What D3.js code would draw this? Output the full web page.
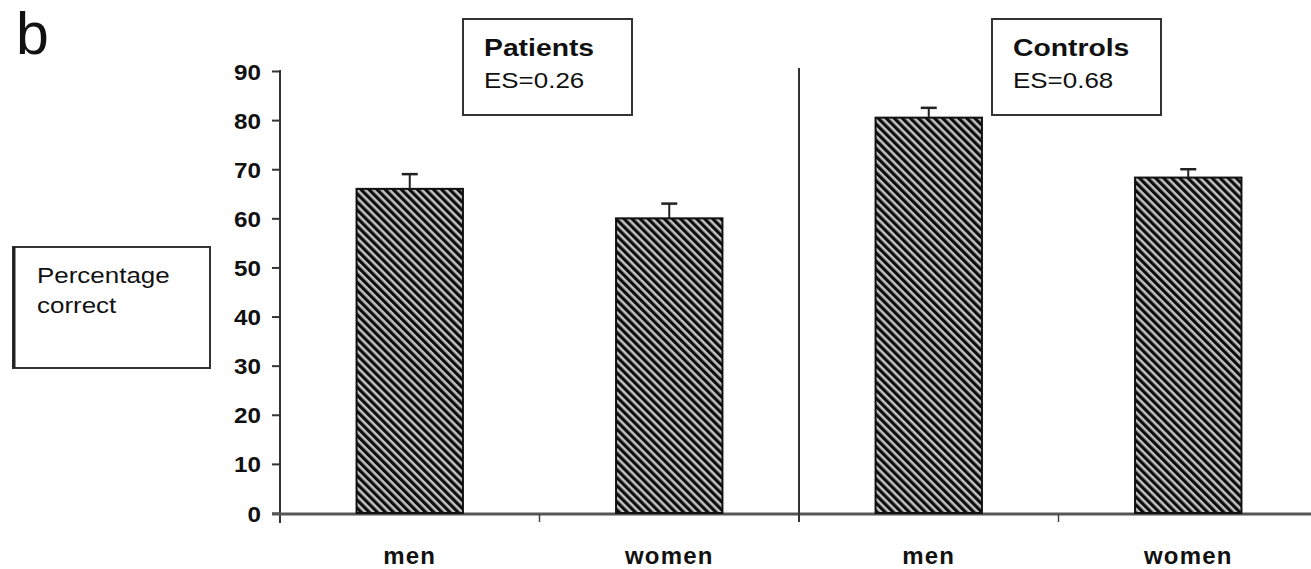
<!DOCTYPE html>
<html>
<head>
<meta charset="utf-8">
<script src="https://cdn.jsdelivr.net/npm/d3@7"></script>
<style>
  body { margin: 0; background: #fff; }
  text { font-family: "Liberation Sans", Arial, sans-serif; fill: #111; }
</style>
</head>
<body>
<div id="chart"></div>
<script>
// data
var categories = ["men", "women", "men", "women"];
var groups = ["Patients", "Patients", "Controls", "Controls"];
var values = [66, 60, 80.5, 68.3];
var errors = [3, 3, 2, 1.7];
var panelTitles = ["Patients", "Controls"];
var panelES = ["ES=0.26", "ES=0.68"];
var yTicks = [0, 10, 20, 30, 40, 50, 60, 70, 80, 90];

var width = 1311, height = 569;
var sx = 1.18; // the figure is a little wider than tall

var svg = d3.select("#chart").append("svg")
  .attr("width", width)
  .attr("height", height);

var defs = svg.append("defs");
var pat = defs.append("pattern")
  .attr("id", "hatch")
  .attr("patternUnits", "userSpaceOnUse")
  .attr("width", 5.7)
  .attr("height", 5.7)
  .attr("patternTransform", "rotate(-45)");
pat.append("rect").attr("width", 5.7).attr("height", 5.7).attr("fill", "#c4c4c4");
pat.append("line")
  .attr("x1", 1.6).attr("y1", 0).attr("x2", 1.6).attr("y2", 5.7)
  .attr("stroke", "#0d0d0d").attr("stroke-width", 3.2);

var y = d3.scaleLinear().domain([0, 90]).range([513, 71]);
var x = d3.scaleBand()
  .domain(d3.range(categories.length))
  .range([280, 1318])
  .paddingInner(0.59)
  .paddingOuter(0.295);

// y axis
var yAxis = svg.append("g")
  .attr("transform", "translate(280,0)")
  .call(d3.axisLeft(y).tickValues(yTicks).tickSize(8).tickFormat(d3.format("d")));
yAxis.select(".domain").remove();
yAxis.selectAll(".tick line").attr("stroke", "#333").attr("stroke-width", 2);
yAxis.selectAll(".tick text")
  .attr("x", null).attr("dy", null)
  .attr("font-size", 22).attr("font-weight", "bold")
  .attr("text-anchor", "end")
  .attr("transform", "translate(-19,8) scale(1.1,1)");
svg.append("line")
  .attr("x1", 280).attr("x2", 280).attr("y1", 70).attr("y2", 523)
  .attr("stroke", "#333").attr("stroke-width", 2);

// x axis line and group ticks
var step = x.step();
svg.append("line")
  .attr("x1", 272).attr("x2", width).attr("y1", 514).attr("y2", 514)
  .attr("stroke", "#555").attr("stroke-width", 3);
[1, 3].forEach(function(k) {
  svg.append("line")
    .attr("x1", 280 + k * step).attr("x2", 280 + k * step)
    .attr("y1", 514).attr("y2", 522)
    .attr("stroke", "#444").attr("stroke-width", 1.5);
});
// divider between the two groups
svg.append("line")
  .attr("x1", 280 + 2 * step).attr("x2", 280 + 2 * step)
  .attr("y1", 68).attr("y2", 522)
  .attr("stroke", "#333").attr("stroke-width", 2);

// bars
svg.selectAll("rect.bar")
  .data(values)
  .enter()
  .append("rect")
  .attr("class", "bar")
  .attr("x", function(d, i) { return x(i); })
  .attr("y", function(d) { return y(d); })
  .attr("width", x.bandwidth())
  .attr("height", function(d) { return y(0) - y(d); })
  .attr("fill", "url(#hatch)")
  .attr("stroke", "#111")
  .attr("stroke-width", 2);

// error bars (upper only)
var eb = svg.selectAll("g.err")
  .data(values)
  .enter()
  .append("g")
  .attr("class", "err");
eb.append("line")
  .attr("x1", function(d, i) { return x(i) + x.bandwidth() / 2; })
  .attr("x2", function(d, i) { return x(i) + x.bandwidth() / 2; })
  .attr("y1", function(d) { return y(d); })
  .attr("y2", function(d, i) { return y(d + errors[i]); })
  .attr("stroke", "#222").attr("stroke-width", 2);
eb.append("line")
  .attr("x1", function(d, i) { return x(i) + x.bandwidth() / 2 - 8; })
  .attr("x2", function(d, i) { return x(i) + x.bandwidth() / 2 + 8; })
  .attr("y1", function(d, i) { return y(d + errors[i]); })
  .attr("y2", function(d, i) { return y(d + errors[i]); })
  .attr("stroke", "#222").attr("stroke-width", 2.5);

// category labels
svg.selectAll("text.cat")
  .data(categories)
  .enter()
  .append("text")
  .attr("class", "cat")
  .attr("text-anchor", "middle")
  .attr("font-size", 24)
  .attr("font-weight", "bold")
  .attr("letter-spacing", 1.2)
  .attr("transform", function(d, i) {
    return "translate(" + (x(i) + x.bandwidth() / 2) + ",564)";
  })
  .text(function(d) { return d; });

// panel boxes
var boxX = [463, 992];
panelTitles.forEach(function(t, i) {
  var g = svg.append("g").attr("transform", "translate(" + boxX[i] + ",19)");
  g.append("rect")
    .attr("width", 169).attr("height", 96)
    .attr("fill", "#fff").attr("stroke", "#333").attr("stroke-width", 2);
  g.append("text")
    .attr("transform", "translate(21,37) scale(" + sx + ",1)")
    .attr("font-size", 24).attr("font-weight", "bold")
    .text(t);
  g.append("text")
    .attr("transform", "translate(21,69) scale(" + sx + ",1)")
    .attr("font-size", 22)
    .text(panelES[i]);
});

// y label box
var lb = svg.append("g").attr("transform", "translate(13,247)");
lb.append("rect")
  .attr("width", 197).attr("height", 121)
  .attr("fill", "#fff").attr("stroke", "#333").attr("stroke-width", 2);
lb.append("line")
  .attr("x1", 1).attr("x2", 1).attr("y1", 0).attr("y2", 121)
  .attr("stroke", "#222").attr("stroke-width", 3);
lb.append("text")
  .attr("transform", "translate(24,36) scale(" + sx + ",1)")
  .attr("font-size", 22)
  .text("Percentage");
lb.append("text")
  .attr("transform", "translate(24,66) scale(" + sx + ",1)")
  .attr("font-size", 22)
  .text("correct");

// panel letter
svg.append("text")
  .attr("x", 16).attr("y", 54)
  .attr("font-size", 59)
  .text("b");
</script>
</body>
</html>
